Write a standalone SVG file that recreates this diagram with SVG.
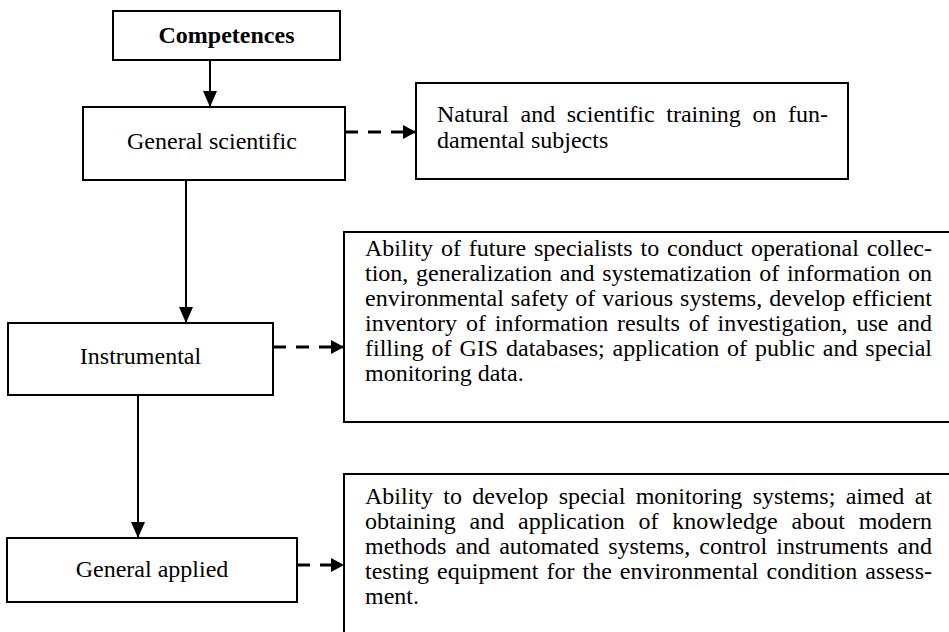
<svg xmlns="http://www.w3.org/2000/svg" width="949" height="632" viewBox="0 0 949 632">
<style>
.box{fill:#fff;stroke:#000;stroke-width:2}
.lbl{font-family:"Liberation Serif","Times New Roman",serif;font-size:24px;fill:#000;text-anchor:middle}
.txt{font-family:"Liberation Serif","Times New Roman",serif;font-size:24px;fill:#000}
.solid{stroke:#000;stroke-width:2;fill:none}
.dash{stroke:#000;stroke-width:3;fill:none;stroke-dasharray:13 10}
</style>
<defs>
<marker id="ah" markerUnits="userSpaceOnUse" viewBox="0 0 16 14" refX="16" refY="7" markerWidth="16" markerHeight="14" orient="auto">
<path d="M0,0 L16,7 L0,14 z" fill="#000"/>
</marker>
<marker id="ahd" markerUnits="userSpaceOnUse" viewBox="0 0 13 14" refX="13" refY="7" markerWidth="13" markerHeight="14" orient="auto">
<path d="M0,0 L13,7 L0,14 z" fill="#000"/>
</marker>
</defs>
<rect width="949" height="632" fill="#fff"/>
<g id="connectors">
<line class="solid" x1="210" y1="60" x2="210" y2="107" marker-end="url(#ah)"/>
<line class="solid" x1="186" y1="180" x2="186" y2="323" marker-end="url(#ah)"/>
<line class="solid" x1="138" y1="395" x2="138" y2="538" marker-end="url(#ah)"/>
<line class="dash" x1="345" y1="132" x2="416" y2="132" marker-end="url(#ahd)"/>
<line class="dash" x1="273" y1="347" x2="344" y2="347" marker-end="url(#ahd)"/>
<line class="dash" x1="297" y1="565" x2="344" y2="565" marker-end="url(#ahd)"/>
</g>
<g id="competences">
<rect class="box" x="113" y="11" width="227" height="49"/>
<text class="lbl" x="226.5" y="43" font-weight="bold">Competences</text>
</g>
<g id="general-scientific">
<rect class="box" x="83" y="107" width="262" height="73"/>
<text class="lbl" x="212" y="149">General scientific</text>
</g>
<g id="instrumental">
<rect class="box" x="8" y="323" width="265" height="72"/>
<text class="lbl" x="140.5" y="364">Instrumental</text>
</g>
<g id="general-applied">
<rect class="box" x="7" y="538" width="290" height="64"/>
<text class="lbl" x="152" y="577">General applied</text>
</g>
<g id="natural-training">
<rect class="box" x="416" y="83" width="432" height="96"/>
<text class="txt" x="437" y="122" textLength="391" lengthAdjust="spacing" style="word-spacing:5.6px">Natural and scientific training on fun-</text>
<text class="txt" x="437" y="148">damental subjects</text>
</g>
<g id="instrumental-desc">
<rect class="box" x="344" y="232" width="620" height="190"/>
<text class="txt" x="365" y="256" textLength="567" lengthAdjust="spacing" style="word-spacing:1.9px">Ability of future specialists to conduct operational collec-</text>
<text class="txt" x="365" y="281" textLength="567" lengthAdjust="spacing" style="word-spacing:1.7px">tion, generalization and systematization of information on</text>
<text class="txt" x="365" y="306" textLength="567" lengthAdjust="spacing" style="word-spacing:1px">environmental safety of various systems, develop efficient</text>
<text class="txt" x="365" y="331" textLength="567" lengthAdjust="spacing" style="word-spacing:2.9px">inventory of information results of investigation, use and</text>
<text class="txt" x="365" y="356" textLength="567" lengthAdjust="spacing" style="word-spacing:1.9px">filling of GIS databases; application of public and special</text>
<text class="txt" x="365" y="381">monitoring data.</text>
</g>
<g id="applied-desc">
<rect class="box" x="344" y="474" width="620" height="180"/>
<text class="txt" x="365" y="504" textLength="567" lengthAdjust="spacing" style="word-spacing:4.3px">Ability to develop special monitoring systems; aimed at</text>
<text class="txt" x="365" y="529" textLength="567" lengthAdjust="spacing" style="word-spacing:7.8px">obtaining and application of knowledge about modern</text>
<text class="txt" x="365" y="554" textLength="567" lengthAdjust="spacing" style="word-spacing:3.1px">methods and automated systems, control instruments and</text>
<text class="txt" x="365" y="579" textLength="567" lengthAdjust="spacing" style="word-spacing:2px">testing equipment for the environmental condition assess-</text>
<text class="txt" x="365" y="604">ment.</text>
</g>
</svg>
